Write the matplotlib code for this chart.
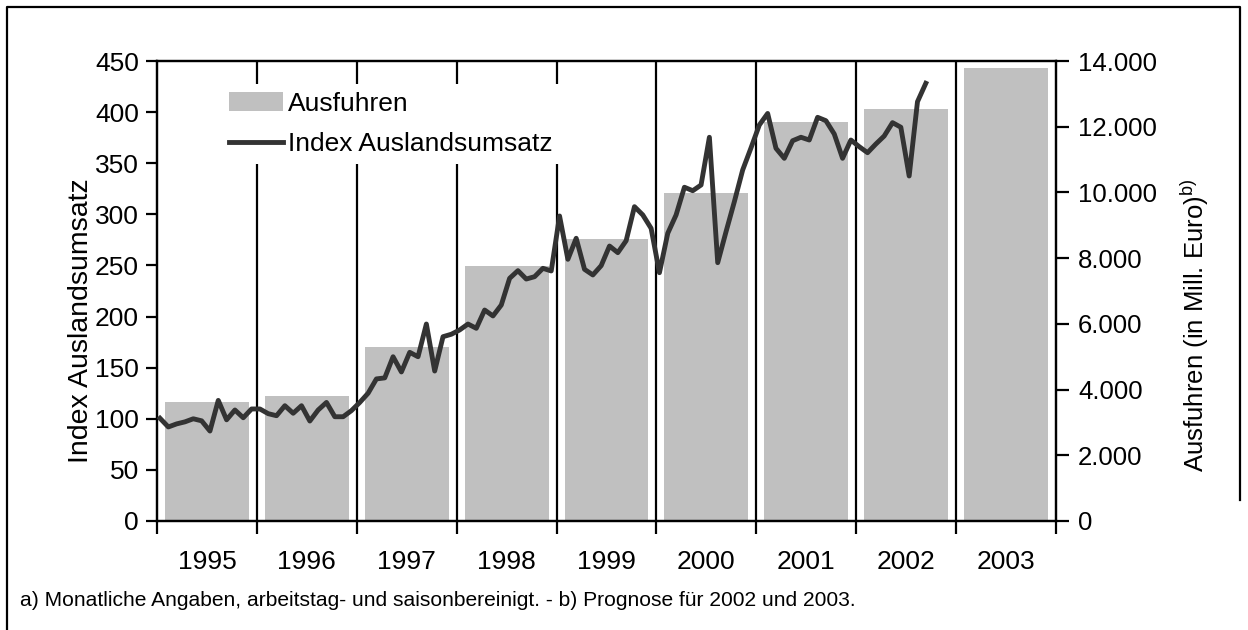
import numpy as np
import matplotlib
matplotlib.use('Agg')
import matplotlib.pyplot as plt
from matplotlib.lines import Line2D
from matplotlib.ticker import FuncFormatter

plt.rcParams['font.family'] = ['Liberation Sans', 'DejaVu Sans']
plt.rcParams['mathtext.fontset'] = 'custom'
plt.rcParams['mathtext.rm'] = 'Liberation Sans'

# Jahre und Ausfuhren (Mill. Euro, 2002/2003 Prognose)
jahre = ['1995', '1996', '1997', '1998', '1999', '2000', '2001', '2002', '2003']
ausfuhren = [3620, 3800, 5300, 7760, 8580, 9980, 12140, 12540, 13790]

# Index Auslandsumsatz, monatlich Jan 1995 - Sep 2002
index_1995 = [100.5, 92, 95, 97, 100, 98, 88, 118, 99, 108.6, 101, 109.6]
index_1996 = [109.6, 105, 103, 112.8, 105.4, 112.8, 97.8, 108.6, 116, 102, 102, 108]
index_1997 = [116, 125, 139, 140, 160.7, 145.8, 165, 160.7, 192.7, 146.7, 180.3, 182.7]
index_1998 = [186.9, 192.7, 188.5, 206.4, 200.6, 211.3, 237.4, 244.9, 236.7, 239, 247.2, 244.6]
index_1999 = [298.4, 256, 276.6, 246.2, 240.7, 249.8, 269, 262.5, 274.2, 307.5, 299.4, 286.3]
index_2000 = [242.9, 281.5, 299.4, 326.5, 323.1, 328.7, 375.4, 252.7, 283, 312.4, 343.4, 365]
index_2001 = [387.4, 398.7, 364.6, 354.8, 372, 375.4, 372.7, 394.9, 391.6, 378.6, 354.8, 372.7]
index_2002 = [366.2, 360.3, 368.8, 376.6, 389.7, 385.2, 337.5, 410.2, 428.2]

index = index_1995 + index_1996 + index_1997 + index_1998 + index_1999 + index_2000 + index_2001 + index_2002
t = (np.arange(len(index)) + 0.36) / 12  # Jahre ab Jan 1995

fig = plt.figure(figsize=(12.48, 6.3), dpi=100)
ax = fig.add_axes([157/1248, 109/630, 899/1248, 460/630])
ax2 = ax.twinx()

# Balken (rechte Achse)
ax2.bar(np.arange(len(jahre)) + 0.5, ausfuhren, width=0.84, color='#c0c0c0', label='Ausfuhren')
ax2.set_ylim(0, 14000)
ax2.set_yticks(np.arange(0, 14001, 2000))
ax2.yaxis.set_major_formatter(FuncFormatter(lambda v, p: '{:,.0f}'.format(v).replace(',', '.')))

# Linie (linke Achse)
ax.set_zorder(ax2.get_zorder() + 1)
ax.patch.set_visible(False)
for x in range(1, len(jahre)):
    ax.axvline(x, color='black', lw=1.6, zorder=1)
ax.plot(t, index, color='#333333', lw=3.5, zorder=3, label='Index Auslandsumsatz')
ax.set_ylim(0, 450)
ax.set_yticks(np.arange(0, 451, 50))
ax.set_xlim(0, len(jahre))
ax.set_xticks(np.arange(0, len(jahre) + 1))
ax.set_xticklabels([])
ax.set_xticks(np.arange(len(jahre)) + 0.5, minor=True)
ax.set_xticklabels(jahre, minor=True)
ax.tick_params(axis='x', which='major', length=9, width=1.6, direction='out')
ax.tick_params(axis='x', which='minor', length=0, pad=21, labelsize=19)
ax.tick_params(axis='y', length=8, width=1.6, labelsize=19, pad=5)
ax2.tick_params(axis='y', length=9, width=1.6, labelsize=18.5, pad=7)

for a in (ax, ax2):
    for s in a.spines.values():
        s.set_linewidth(1.6)

h1, l1 = ax2.get_legend_handles_labels()
h2, l2 = ax.get_legend_handles_labels()
leg = ax.legend(h1 + h2, l1 + l2, loc='upper left', bbox_to_anchor=(0.071, 0.950),
                borderaxespad=0, frameon=True, fontsize=19, handlelength=2.05,
                handletextpad=0.2, borderpad=0.3, labelspacing=0.6)
leg.get_frame().set_edgecolor('none')
leg.get_frame().set_facecolor('white')
leg.get_frame().set_alpha(1)
leg.get_frame().set_boxstyle('square', pad=0)
leg.set_zorder(10)

fig.text(81/1248, 1 - 321/630, 'Index Auslandsumsatz', rotation=90, ha='center', va='center', fontsize=20.5)
fig.text(1195/1248, 1 - 325/630, r'Ausfuhren (in Mill. Euro)$^{\mathrm{b)}}$', rotation=90,
         ha='center', va='center', fontsize=18.5)
fig.text(20/1248, 1 - 601/630, 'a) Monatliche Angaben, arbeitstag- und saisonbereinigt. - b) Prognose für 2002 und 2003.',
         ha='left', va='center', fontsize=15.15)

# Rahmen um die Grafik (links bis unten, oben, rechts nur im oberen Teil)
x0, x1, y0 = 7/1248, 1240/1248, 1 - 7/630
fig.add_artist(Line2D([x0, x0, x1, x1], [0, y0, y0, 1 - 500/630], transform=fig.transFigure,
                      color='black', lw=1.6))

fig.savefig('out.png', dpi=100)
